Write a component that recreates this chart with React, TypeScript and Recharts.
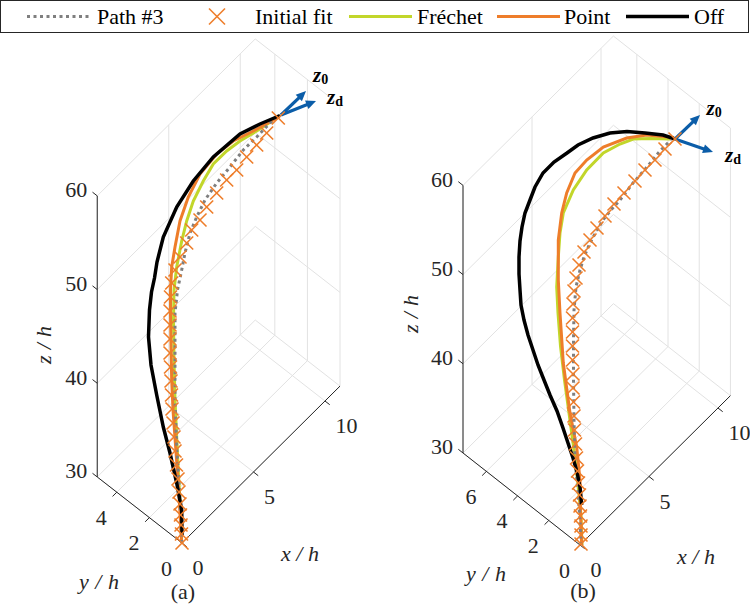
import { ComposedChart, XAxis, YAxis, Line, Scatter, ReferenceLine } from 'recharts'

type Pt = [number, number]

const FONT = '"Liberation Serif", "DejaVu Serif", "Noto Serif", serif'
const ORANGE = '#EE7D2A'
const GREEN = '#C2D62A'
const GRAY = '#7F7F7F'
const BLUE = '#0B5DA8'
const GRID = '#E2E2E2'
const AXIS = '#262626'

const legendLabels = ['Path #3', 'Initial fit', 'Fréchet', 'Point', 'Off']
const zTicks = [30, 40, 50, 60]
const xTicks = [0, 5, 10]
const yTicksA = [0, 2, 4]
const yTicksB = [0, 2, 4, 6]

// curves as they appear in the projected view (page u right, v down)
const pathA: Pt[] = [[181.7, 543], [180, 497], [176.7, 447], [175, 400], [175, 360], [175, 313], [177.5, 290], [181.7, 270], [185, 253], [190, 233], [196.7, 217], [205, 200], [216.7, 183], [230, 167], [243.3, 150], [256.7, 137], [270, 123], [277, 117]]
const fitA: Pt[] = [[278.3, 118], [266.7, 133], [256.7, 145], [246.7, 157], [236.7, 170], [226.7, 180], [216.7, 193], [206.7, 207], [200, 220], [191.7, 230], [186.7, 243], [180, 257], [175, 270], [171.7, 283], [170.5, 297], [170, 311], [170, 325], [170, 339], [170, 353], [170.5, 367], [171, 381], [171.5, 395], [172, 409], [173, 423], [174, 437], [175, 451], [176.5, 465], [178, 479], [179, 492], [180, 504], [180.5, 515], [181, 525], [181.5, 534], [182, 543]]
const frechetA: Pt[] = [[181.7, 543], [180.7, 513], [178.5, 475], [176.7, 437], [175, 400], [174, 360], [173.5, 320], [174, 290], [176.7, 267], [181.7, 241], [186.7, 221], [193.3, 201], [203.3, 181], [213.3, 164], [226.7, 151], [240, 141], [256.7, 131], [272, 121]]
const pointA: Pt[] = [[181.7, 543], [180, 513], [178, 480], [175.5, 445], [173, 410], [171.7, 380], [171, 347], [170.5, 315], [170.5, 290], [171.7, 267], [175, 247], [180, 221], [188.3, 197], [200, 174], [216.7, 154], [233.3, 141], [253.3, 131], [277, 118]]
const offA: Pt[] = [[182, 535], [181.7, 510], [176.7, 483], [170, 453], [163.3, 427], [156.7, 395], [151, 365], [148.5, 337], [149.5, 310], [151.5, 292], [154.5, 278], [157, 262], [163.3, 237], [176.7, 207], [193.3, 181], [213.3, 157], [240, 134], [260, 124], [280, 115.5]]

const pathB: Pt[] = [[581, 545], [580, 520], [578, 493], [575, 460], [574, 420], [573.5, 380], [573.5, 340], [574, 310], [576, 287], [580, 270], [584, 257], [590, 243], [596, 232], [603, 220], [611, 210], [620, 200], [633, 183], [647, 167], [660, 151], [671, 140]]
const fitB: Pt[] = [[675, 139], [665, 149], [655, 160], [645, 170], [635, 181], [624, 193], [614, 204], [605, 216], [597, 228], [590, 240], [584, 252], [579, 265], [576, 278], [574, 291], [573, 304], [572.5, 318], [572.5, 332], [572.5, 346], [572.5, 360], [573, 374], [573, 388], [573.5, 402], [574, 416], [574.5, 430], [575.5, 444], [576.5, 458], [577.5, 471], [578.5, 483], [579.5, 495], [580, 506], [580.5, 516], [581, 526], [581, 535], [581, 544]]
const frechetB: Pt[] = [[582, 545], [581, 515], [577.5, 480], [573.5, 446], [569, 413], [564.5, 380], [560.5, 346], [558, 313], [556.7, 287], [558.3, 257], [560, 233], [563.3, 213], [573.3, 190], [586.7, 170], [603.3, 153], [620, 144], [633.3, 139], [650, 138.5], [670, 139]]
const pointB: Pt[] = [[581.7, 545], [580.5, 513], [580, 480], [576.7, 447], [570, 413], [563.3, 363], [560, 313], [558.3, 280], [558.3, 240], [561.7, 213], [566.7, 193], [575, 173], [586.7, 160], [603.3, 147], [626.7, 138], [646.7, 135], [674, 137.5]]
const offB: Pt[] = [[581.7, 505], [580, 487], [577, 472], [573, 458], [568, 443], [563, 428], [557, 411], [550, 395], [544, 380], [538, 365], [533, 350], [528, 335], [524, 320], [521, 305], [520, 290], [519, 274], [519, 257], [520, 241], [522, 227], [525, 213], [530, 200], [535, 187], [543, 173], [554, 162], [567, 153], [578, 145], [593, 138], [610, 133], [627, 131.5], [645, 133], [663, 135], [675, 139]]

// direction arrows at the tip: [tail, head]
const arrowsA: [Pt, Pt][] = [[[281, 115], [306, 91]], [[281, 115], [316, 101]]]
const arrowsB: [Pt, Pt][] = [[[675, 139], [700, 115]], [[675, 139], [713, 152]]]

interface Panel {
  o: Pt; ex: Pt; ey: Pt; ez: number
  xMax: number; yMax: number; zMin: number; zMax: number
  yTicks: number[]
}

const panelA: Panel = { o: [182, 543], ex: [14.3, -14.2], ey: [-16.3, -12.7], ez: -9.37, xMax: 11.05, yMax: 5.2, zMin: 30, zMax: 60, yTicks: yTicksA }
const panelB: Panel = { o: [580, 545], ex: [13.8, -13.7], ey: [-15.6, -12.27], ez: -8.92, xMax: 10.9, yMax: 7.5, zMin: 30, zMax: 60, yTicks: yTicksB }

const proj = (p: Panel, x: number, y: number, z: number): Pt => [
  p.o[0] + x * p.ex[0] + y * p.ey[0],
  p.o[1] + x * p.ex[1] + y * p.ey[1] + (z - p.zMin) * p.ez,
]

const unit = (v: Pt, s: number): Pt => {
  const l = Math.hypot(v[0], v[1])
  return [(v[0] / l) * s, (v[1] / l) * s]
}

function gridSegs(p: Panel) {
  const s: [Pt, Pt][] = []
  for (const x of xTicks) {
    s.push([proj(p, x, 0, p.zMin), proj(p, x, p.yMax, p.zMin)])
    s.push([proj(p, x, p.yMax, p.zMin), proj(p, x, p.yMax, p.zMax)])
  }
  for (const y of p.yTicks) {
    s.push([proj(p, 0, y, p.zMin), proj(p, p.xMax, y, p.zMin)])
    s.push([proj(p, p.xMax, y, p.zMin), proj(p, p.xMax, y, p.zMax)])
  }
  for (const z of zTicks) {
    s.push([proj(p, 0, p.yMax, z), proj(p, p.xMax, p.yMax, z)])
    s.push([proj(p, p.xMax, p.yMax, z), proj(p, p.xMax, 0, z)])
  }
  return s
}

function axisSegs(p: Panel) {
  const s: [Pt, Pt][] = [
    [proj(p, 0, 0, p.zMin), proj(p, 0, p.yMax, p.zMin)],
    [proj(p, 0, 0, p.zMin), proj(p, p.xMax, 0, p.zMin)],
    [proj(p, 0, p.yMax, p.zMin), proj(p, 0, p.yMax, p.zMax)],
  ]
  const tx = unit([-p.ey[0], -p.ey[1]], 6)
  const ty = unit([-p.ex[0], -p.ex[1]], 6)
  const tz = unit(p.ey, 6)
  for (const x of xTicks) {
    const a = proj(p, x, 0, p.zMin)
    s.push([a, [a[0] + tx[0], a[1] + tx[1]]])
  }
  for (const y of p.yTicks) {
    const a = proj(p, 0, y, p.zMin)
    s.push([a, [a[0] + ty[0], a[1] + ty[1]]])
  }
  for (const z of zTicks) {
    const a = proj(p, 0, p.yMax, z)
    s.push([a, [a[0] + tz[0], a[1] + tz[1]]])
  }
  return s
}

interface Label { u: number; v: number; text: string; anchor: string; italic?: boolean; rotate?: boolean; len?: number }

function tickLabels(p: Panel): Label[] {
  const out: Label[] = []
  for (const z of zTicks) {
    const a = proj(p, 0, p.yMax, z)
    out.push({ u: a[0] - 10, v: a[1] - 6, text: String(z), anchor: 'end' })
  }
  for (const y of p.yTicks) {
    const a = proj(p, 0, y, p.zMin)
    out.push({ u: a[0] - 10, v: a[1] + 25, text: String(y), anchor: 'end' })
  }
  for (const x of xTicks) {
    const a = proj(p, x, 0, p.zMin)
    out.push({ u: a[0] + 10.5, v: a[1] + 24.5, text: String(x), anchor: 'start' })
  }
  return out
}

const titleLabels: Label[] = [
  { u: 43, v: 345, text: 'z/h', anchor: 'middle', italic: true, rotate: true, len: 38 },
  { u: 99, v: 581, text: 'y/h', anchor: 'middle', italic: true, len: 40 },
  { u: 300, v: 553, text: 'x/h', anchor: 'middle', italic: true, len: 38 },
  { u: 183, v: 591, text: '(a)', anchor: 'middle' },
  { u: 410, v: 314, text: 'z/h', anchor: 'middle', italic: true, rotate: true, len: 38 },
  { u: 486, v: 573, text: 'y/h', anchor: 'middle', italic: true, len: 40 },
  { u: 696, v: 556, text: 'x/h', anchor: 'middle', italic: true, len: 38 },
  { u: 583, v: 590, text: '(b)', anchor: 'middle' },
]

const vecLabels = [
  { u: 313, v: 82, sub: '0' },
  { u: 327, v: 104, sub: 'd' },
  { u: 706.5, v: 115, sub: '0' },
  { u: 725, v: 161.5, sub: 'd' },
]

const toXY = (pts: Pt[]) => pts.map(([u, v]) => ({ u, v }))

const TextShape = (props: any) => {
  const { cx, cy, payload } = props
  const t = payload as Label
  return (
    <text
      x={cx}
      y={cy}
      textAnchor={t.anchor}
      dominantBaseline="central"
      style={{ fontFamily: FONT, fontSize: 22, fontStyle: t.italic ? 'italic' : 'normal' }}
      fill={AXIS}
      textLength={t.len}
      lengthAdjust={t.len ? 'spacing' : undefined}
      transform={t.rotate ? `rotate(-90, ${cx}, ${cy})` : undefined}
    >
      {t.text}
    </text>
  )
}

const VecLabel = (props: any) => {
  const { cx, cy, payload } = props
  return (
    <text x={cx} y={cy} style={{ fontFamily: FONT }} fill="#000">
      <tspan style={{ fontSize: 21, fontWeight: 'bold', fontStyle: 'italic' }}>z</tspan>
      <tspan style={{ fontSize: 14, fontWeight: 'bold' }} dy={2}>{payload.sub}</tspan>
    </text>
  )
}

const XMark = (props: any) => {
  const { cx, cy } = props
  const r = 6.5
  return (
    <g stroke={ORANGE} strokeWidth={1.6}>
      <line x1={cx - r} y1={cy - r} x2={cx + r} y2={cy + r} />
      <line x1={cx - r} y1={cy + r} x2={cx + r} y2={cy - r} />
    </g>
  )
}

const ArrowHead = (props: any) => {
  const { cx, cy, payload } = props
  const a = payload.ang
  const len = 10
  const half = 4.5
  const bx = cx - len * Math.cos(a)
  const by = cy - len * Math.sin(a)
  const nx = -Math.sin(a) * half
  const ny = Math.cos(a) * half
  return <polygon points={`${cx},${cy} ${bx + nx},${by + ny} ${bx - nx},${by - ny}`} fill={BLUE} />
}

const allArrows = [...arrowsA, ...arrowsB]
const arrowHeads = allArrows.map(([t, h]) => ({ u: h[0], v: h[1], ang: Math.atan2(h[1] - t[1], h[0] - t[0]) }))
const arrowShafts = allArrows.map(([t, h]) => {
  const a = Math.atan2(h[1] - t[1], h[0] - t[0])
  return [{ u: t[0], v: t[1] }, { u: h[0] - 8 * Math.cos(a), v: h[1] - 8 * Math.sin(a) }]
})

function LegendBox() {
  const y = 16.5
  const txt = (x: number, s: string) => (
    <text x={x} y={y} dominantBaseline="central" style={{ fontFamily: FONT, fontSize: 22 }} fill="#000">{s}</text>
  )
  return (
    <svg width={750} height={34} style={{ position: 'absolute', left: 0, top: 0 }}>
      <rect x={0.5} y={0.5} width={748} height={32} fill="#fff" stroke={AXIS} strokeWidth={1} />
      <line x1={27} x2={91} y1={y} y2={y} stroke={GRAY} strokeWidth={3} strokeDasharray="3 3.5" />
      {txt(97, legendLabels[0])}
      <g stroke={ORANGE} strokeWidth={1.6}>
        <line x1={209} y1={y - 8} x2={225} y2={y + 8} />
        <line x1={209} y1={y + 8} x2={225} y2={y - 8} />
      </g>
      {txt(255, legendLabels[1])}
      <line x1={349} x2={412} y1={y} y2={y} stroke={GREEN} strokeWidth={3} />
      {txt(417, legendLabels[2])}
      <line x1={497} x2={560} y1={y} y2={y} stroke={ORANGE} strokeWidth={3} />
      {txt(564, legendLabels[3])}
      <line x1={626} x2={689} y1={y} y2={y} stroke="#000" strokeWidth={3.5} />
      {txt(694, legendLabels[4])}
    </svg>
  )
}

export default function App() {
  const grid = [...gridSegs(panelA), ...gridSegs(panelB)]
  const axes = [...axisSegs(panelA), ...axisSegs(panelB)]
  const labels = [...tickLabels(panelA), ...tickLabels(panelB), ...titleLabels]
  const curve = (pts: Pt[], color: string, w: number, key: string, dash?: string) => (
    <Line
      key={key}
      data={toXY(pts)}
      dataKey="v"
      type="linear"
      stroke={color}
      strokeWidth={w}
      strokeDasharray={dash}
      dot={false}
      activeDot={false}
      isAnimationActive={false}
    />
  )

  return (
    <div style={{ position: 'absolute', left: 0, top: 0, width: 750, height: 607, background: '#fff', fontFamily: FONT }}>
      <ComposedChart width={750} height={607} margin={{ top: 0, right: 0, bottom: 0, left: 0 }}>
        <XAxis type="number" dataKey="u" domain={[0, 750]} allowDataOverflow hide />
        <YAxis type="number" dataKey="v" domain={[0, 607]} allowDataOverflow reversed hide />
        {grid.map(([a, b], i) => (
          <ReferenceLine key={`g${i}`} segment={[{ x: a[0], y: a[1] }, { x: b[0], y: b[1] }]} stroke={GRID} strokeWidth={1} />
        ))}
        {axes.map(([a, b], i) => (
          <ReferenceLine key={`a${i}`} segment={[{ x: a[0], y: a[1] }, { x: b[0], y: b[1] }]} stroke={AXIS} strokeWidth={1} />
        ))}
        <Scatter data={toXY(fitA)} dataKey="v" shape={XMark} isAnimationActive={false} />
        <Scatter data={toXY(fitB)} dataKey="v" shape={XMark} isAnimationActive={false} />
        {curve(frechetA, GREEN, 3, 'fa')}
        {curve(frechetB, GREEN, 3, 'fb')}
        {curve(pointA, ORANGE, 3, 'pa')}
        {curve(pointB, ORANGE, 3, 'pb')}
        {curve(pathA, GRAY, 3, 'ga', '3 3.5')}
        {curve(pathB, GRAY, 3, 'gb', '3 3.5')}
        {curve(offA, '#000', 3.5, 'oa')}
        {curve(offB, '#000', 3.5, 'ob')}
        {arrowShafts.map((s, i) => (
          <Line key={`s${i}`} data={s} dataKey="v" type="linear" stroke={BLUE} strokeWidth={3.2} dot={false} activeDot={false} isAnimationActive={false} />
        ))}
        <Scatter data={arrowHeads} dataKey="v" shape={ArrowHead} isAnimationActive={false} />
        <Scatter data={labels} dataKey="v" shape={TextShape} isAnimationActive={false} />
        <Scatter data={vecLabels} dataKey="v" shape={VecLabel} isAnimationActive={false} />
      </ComposedChart>
      <LegendBox />
    </div>
  )
}
